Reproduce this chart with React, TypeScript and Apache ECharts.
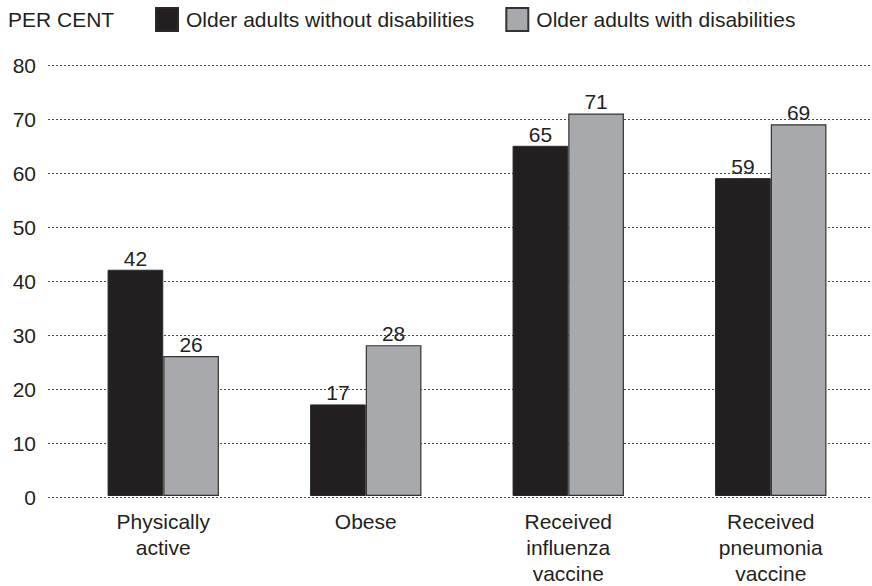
import React, { useEffect, useRef } from "react";
import * as echarts from "echarts";

// Share of older adults, by disability status
const categories = [
  "Physically\nactive",
  "Obese",
  "Received\ninfluenza\nvaccine",
  "Received\npneumonia\nvaccine",
];
const seriesNames = [
  "Older adults without disabilities",
  "Older adults with disabilities",
];
const withoutDisabilities = [42, 17, 65, 59];
const withDisabilities = [26, 28, 71, 69];
const yTicks = { min: 0, max: 80, interval: 10 };

const INK = "#231f20";
const GREY = "#a7a9ac";
const FONT = "'Liberation Sans', Arial, Helvetica, sans-serif";

export default function App() {
  const ref = useRef<HTMLDivElement>(null);

  useEffect(() => {
    if (!ref.current) return;
    const chart = echarts.init(ref.current, undefined, { renderer: "svg" });

    const barLabel = {
      show: true,
      position: "top" as const,
      distance: 1,
      color: INK,
      fontSize: 21,
      fontFamily: FONT,
    };

    chart.setOption({
      animation: false,
      backgroundColor: "#ffffff",
      textStyle: { fontFamily: FONT, color: INK },
      title: {
        text: "PER CENT",
        left: 8,
        top: 9,
        padding: 0,
        textStyle: { fontSize: 21, fontWeight: "normal", color: INK, fontFamily: FONT },
      },
      legend: {
        left: 155,
        top: 7,
        padding: 0,
        itemWidth: 22,
        itemHeight: 23,
        itemGap: 31,
        icon: "rect",
        data: seriesNames,
        textStyle: {
          fontSize: 21,
          color: INK,
          fontFamily: FONT,
          padding: [0, 0, 0, 3],
        },
      },
      grid: [
        // gridline frame, reaching further left than the bars
        { left: 48, right: 1, top: 65, bottom: 89 },
        // bar area
        { left: 62, right: 0, top: 65, bottom: 89 },
      ],
      xAxis: [
        { gridIndex: 0, type: "category", data: [""], show: false },
        {
          gridIndex: 1,
          type: "category",
          data: categories,
          axisLine: { show: false },
          axisTick: { show: false },
          axisLabel: {
            margin: 12,
            fontSize: 21,
            lineHeight: 26,
            color: INK,
            fontFamily: FONT,
            align: "center",
          },
        },
      ],
      yAxis: [
        {
          gridIndex: 0,
          type: "value",
          min: yTicks.min,
          max: yTicks.max,
          interval: yTicks.interval,
          axisLine: { show: false },
          axisTick: { show: false },
          axisLabel: { margin: 12, fontSize: 21, color: INK, fontFamily: FONT },
          splitLine: {
            show: true,
            lineStyle: { color: "#4a4a4a", width: 1, type: [2, 2] },
          },
        },
        {
          gridIndex: 1,
          type: "value",
          min: yTicks.min,
          max: yTicks.max,
          interval: yTicks.interval,
          show: false,
          splitLine: { show: false },
        },
      ],
      series: [
        {
          name: seriesNames[0],
          type: "bar",
          xAxisIndex: 1,
          yAxisIndex: 1,
          data: withoutDisabilities,
          barGap: "0%",
          barCategoryGap: "45%",
          itemStyle: { color: INK, borderColor: "#2a2a2a", borderWidth: 1 },
          label: barLabel,
        },
        {
          name: seriesNames[1],
          type: "bar",
          xAxisIndex: 1,
          yAxisIndex: 1,
          data: withDisabilities,
          barGap: "0%",
          barCategoryGap: "45%",
          itemStyle: { color: GREY, borderColor: "#333333", borderWidth: 1.2 },
          label: barLabel,
        },
      ],
    });

    return () => chart.dispose();
  }, []);

  return (
    <div
      ref={ref}
      style={{ position: "fixed", left: 0, top: 0, width: 872, height: 586, background: "#fff" }}
    />
  );
}
